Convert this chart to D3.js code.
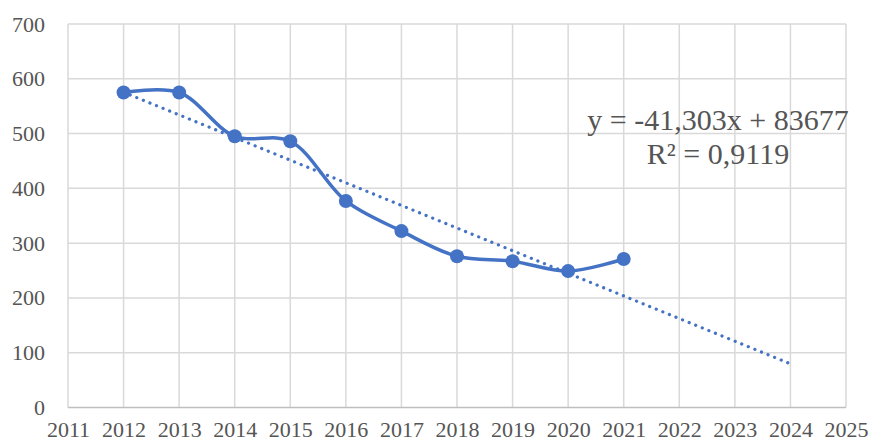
<!DOCTYPE html>
<html><head><meta charset="utf-8">
<script src="https://cdn.jsdelivr.net/npm/d3@7"></script>
<style>html,body{margin:0;padding:0;background:#fff;}svg{display:block;}
text{font-family:"Liberation Serif","DejaVu Serif","Times New Roman",serif;}</style>
</head><body>
<svg id="c" width="874" height="442"></svg>
<script>
const years = [2012, 2013, 2014, 2015, 2016, 2017, 2018, 2019, 2020, 2021];
const values = [575, 575, 495, 486, 377, 322, 276, 267, 249, 271];
const xTicks = [2011, 2012, 2013, 2014, 2015, 2016, 2017, 2018, 2019, 2020, 2021, 2022, 2023, 2024, 2025];
const yTicks = [0, 100, 200, 300, 400, 500, 600, 700];
const trendSlope = -41.303, trendIntercept = 83677;
const trendRange = [2012, 2024];
const eqLabel = "y = -41,303x + 83677";
const r2Label = "R² = 0,9119";

const svg = d3.select("#c");
const L = 68, R = 846, T = 24, B = 407.5;
const x = d3.scaleLinear().domain([2011, 2025]).range([L, R]);
const y = d3.scaleLinear().domain([0, 700]).range([B, T]);
const font = '"Liberation Serif","DejaVu Serif","Times New Roman",serif';
const blue = "#4472C4";
const txt = "#555555";

// gridlines
svg.append("g").selectAll("line.v").data(xTicks).join("line")
  .attr("x1", d => x(d)).attr("x2", d => x(d)).attr("y1", T).attr("y2", B)
  .attr("stroke", "#d9d9d9").attr("stroke-width", 1.5);
svg.append("g").selectAll("line.h").data(yTicks).join("line")
  .attr("x1", L).attr("x2", R).attr("y1", d => y(d)).attr("y2", d => y(d))
  .attr("stroke", d => d === 0 ? "#bfbfbf" : "#d9d9d9").attr("stroke-width", 1.5);

// axes labels
const yAxis = d3.axisLeft(y).tickValues(yTicks).tickSize(0).tickPadding(23);
const gy = svg.append("g").attr("transform", `translate(${L},0)`).call(yAxis);
gy.attr("font-family", null).attr("font-size", null);
gy.select(".domain").remove();
gy.selectAll("text").style("font-family", font).style("font-size", "22px").attr("fill", txt);

const xAxis = d3.axisBottom(x).tickValues(xTicks).tickFormat(d3.format("d")).tickSize(0).tickPadding(14);
const gx = svg.append("g").attr("transform", `translate(0,${B})`).call(xAxis);
gx.attr("font-family", null).attr("font-size", null);
gx.select(".domain").remove();
gx.selectAll("text").style("font-family", font).style("font-size", "22px").attr("fill", txt);

// trend line
svg.append("line")
  .attr("x1", x(trendRange[0])).attr("y1", y(trendSlope * trendRange[0] + trendIntercept))
  .attr("x2", x(trendRange[1])).attr("y2", y(trendSlope * trendRange[1] + trendIntercept))
  .attr("stroke", blue).attr("stroke-width", 3.2).attr("stroke-dasharray", "0.1,7")
  .attr("stroke-linecap", "round");

// data line
const pts = years.map((yr, i) => [yr, values[i]]);
const line = d3.line().x(d => x(d[0])).y(d => y(d[1])).curve(d3.curveCatmullRom.alpha(0.5));
svg.append("path").datum(pts).attr("d", line)
  .attr("fill", "none").attr("stroke", blue).attr("stroke-width", 3.5).attr("stroke-linejoin", "round");
svg.append("g").selectAll("circle").data(pts).join("circle")
  .attr("cx", d => x(d[0])).attr("cy", d => y(d[1])).attr("r", 7).attr("fill", blue);

// equation
svg.append("text").attr("x", 718).attr("y", 130).attr("text-anchor", "middle")
  .style("font-family", font).style("font-size", "30px").attr("fill", txt).text(eqLabel);
svg.append("text").attr("x", 718).attr("y", 164).attr("text-anchor", "middle")
  .style("font-family", font).style("font-size", "30px").attr("fill", txt).text(r2Label);
</script>
</body></html>
